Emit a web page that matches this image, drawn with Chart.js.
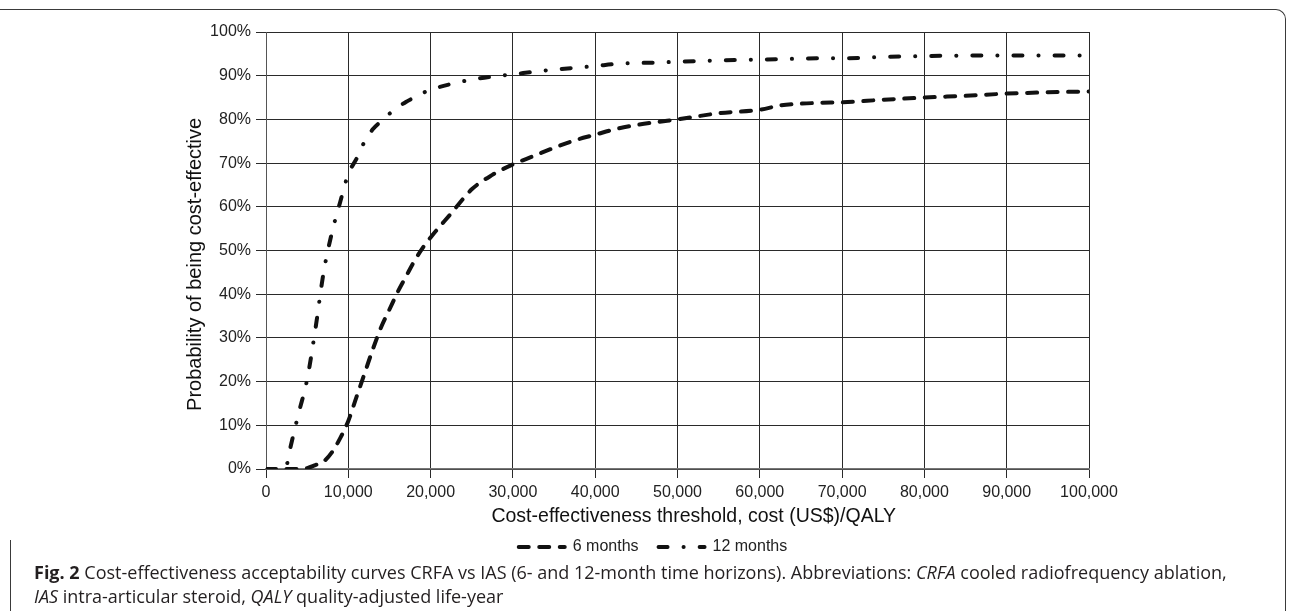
<!DOCTYPE html>
<html>
<head>
<meta charset="utf-8">
<title>CEAC CRFA vs IAS</title>
<script src="https://cdn.jsdelivr.net/npm/chart.js@4"></script>
<style>
	html, body { margin: 0; padding: 0; background: #fff; overflow: hidden; width: 1289px; height: 611px; }
	#frameTop { position: absolute; left: -20px; top: 9px; width: 1305px; height: 640px; border-top: 1.5px solid #3a3a3a; border-right: 1.5px solid #3a3a3a; border-top-right-radius: 10px; }
	#frameLeft { position: absolute; left: 10px; top: 540px; width: 10px; height: 90px; border-left: 1.5px solid #3a3a3a; }
	#wrap { position: absolute; left: 0; top: 0; }
	#caption { position: absolute; left: 34px; top: 560px; font-family: "Open Sans", sans-serif; font-size: 18px; line-height: 24px; color: #231f20; white-space: nowrap; }
	#caption b { font-weight: 700; }
</style>
</head>
<body>
<div id="frameTop"></div>
<div id="frameLeft"></div>
<div id="wrap"><canvas id="mycanvas" width="1306" height="565"></canvas></div>
<div id="caption"><b>Fig. 2</b> Cost-effectiveness acceptability curves CRFA vs IAS (6- and 12-month time horizons). Abbreviations: <i>CRFA</i> cooled radiofrequency ablation,<br><i>IAS</i> intra-articular steroid, <i>QALY</i> quality-adjusted life-year</div>
<script>
// threshold (US$/QALY) and probability of CRFA being cost-effective (%)
var thresholds = [0, 1000, 2000, 2500, 3000, 4000, 5000, 6000, 7000, 8000, 9000, 10000, 11000, 12000, 13000, 14000, 15000, 16000, 17000, 18000, 19000, 20000, 22500, 25000, 27500, 30000, 32500, 35000, 37500, 40000, 42500, 45000, 47500, 50000, 55000, 60000, 62500, 65000, 67500, 70000, 75000, 80000, 85000, 90000, 95000, 100000];
var sixMonths = [0, 0, 0, 0, 0, 0, 0.2, 0.9, 1.7, 3.8, 7, 11, 16.5, 22, 27.5, 32.5, 36.5, 40.5, 44, 47.5, 50.5, 53, 58.5, 64, 67.3, 69.7, 71.6, 73.5, 75.2, 76.5, 77.8, 78.7, 79.4, 80.0, 81.4, 82.2, 83.2, 83.6, 83.8, 83.9, 84.5, 85.0, 85.4, 85.9, 86.2, 86.4];
var twelveMonths = [0, 0, 0, 0.8, 5.2, 13, 20.5, 32, 45, 54, 61, 67.5, 71, 75, 77.8, 79.6, 81.3, 82.7, 84, 85, 86, 86.8, 88.1, 89.1, 89.8, 90.3, 90.9, 91.4, 91.8, 92.2, 92.7, 92.9, 93.0, 93.2, 93.5, 93.7, 93.8, 93.9, 94.0, 94.0, 94.3, 94.5, 94.6, 94.6, 94.6, 94.6];
var seriesLabels = ['6 months', '12 months'];
var xTicks = [0, 10000, 20000, 30000, 40000, 50000, 60000, 70000, 80000, 90000, 100000];
var yTicks = [0, 10, 20, 30, 40, 50, 60, 70, 80, 90, 100];

function toPoints(values) {
	var pts = [];
	for (var i in thresholds) {
		pts.push({x: thresholds[i], y: values[i]});
	}
	return pts;
}

var ink = '#111';
var txt = '#222';

var chartdata = {
	datasets: [
		{
			label: seriesLabels[0],
			data: toPoints(sixMonths),
			borderColor: ink,
			backgroundColor: ink,
			borderWidth: 4,
			borderDash: [10, 10.5],
			borderCapStyle: 'round',
			pointRadius: 0,
			pointStyle: 'line',
			cubicInterpolationMode: 'monotone'
		},
		{
			label: seriesLabels[1],
			data: toPoints(twelveMonths),
			borderColor: ink,
			backgroundColor: ink,
			borderWidth: 4,
			borderDash: [9, 16, 0.1, 16],
			borderCapStyle: 'round',
			pointRadius: 0,
			pointStyle: 'line',
			cubicInterpolationMode: 'monotone'
		}
	]
};

var ctx = document.getElementById('mycanvas');

var lineGraph = new Chart(ctx, {
	type: 'line',
	data: chartdata,
	options: {
		responsive: false,
		animation: false,
		devicePixelRatio: 1,
		layout: { padding: { top: 32, left: 0, right: 0, bottom: 0 } },
		plugins: {
			tooltip: { enabled: false },
			legend: {
				position: 'bottom',
				labels: {
					usePointStyle: true,
					pointStyleWidth: 46,
					padding: 20,
					color: txt,
					font: { family: 'Liberation Sans', size: 16 },
					generateLabels: function(chart) {
						var items = Chart.defaults.plugins.legend.labels.generateLabels(chart);
						items.forEach(function(it) {
							var ds = chart.data.datasets[it.datasetIndex];
							it.lineDash = ds.borderDash;
							it.lineCap = 'round';
							it.lineWidth = 4;
						});
						return items;
					}
				}
			}
		},
		scales: {
			x: {
				type: 'linear',
				min: 0,
				max: 100000,
				afterBuildTicks: function(s) { s.ticks = xTicks.map(function(v) { return {value: v}; }); },
				afterFit: function(s) { s.height = 50; },
				ticks: {
					color: txt,
					padding: 5,
					maxRotation: 0,
					font: { family: 'Liberation Sans', size: 16 },
					callback: function(v) { return v.toLocaleString('en-US'); }
				},
				grid: { color: '#2a2a2a', lineWidth: 1, tickLength: 9 },
				border: { color: '#777', width: 1.5 },
				title: {
					display: true,
					// leading spaces nudge the title right, as in the original
					text: '      Cost-effectiveness threshold, cost (US$)/QALY',
					color: '#111',
					padding: { top: 0, bottom: -9 },
					font: { family: 'Liberation Sans', size: 19.5 }
				}
			},
			y: {
				min: 0,
				max: 100,
				afterBuildTicks: function(s) { s.ticks = yTicks.map(function(v) { return {value: v}; }); },
				afterFit: function(s) { s.width = 266; },
				ticks: {
					color: txt,
					padding: 5,
					font: { family: 'Liberation Sans', size: 16 },
					callback: function(v) { return v + '%'; }
				},
				grid: { color: '#2a2a2a', lineWidth: 1, tickLength: 10 },
				border: { color: '#555' },
				title: {
					display: true,
					text: 'Probability of being cost-effective     ',
					color: '#111',
					padding: { top: 183, bottom: 0 },
					font: { family: 'Liberation Sans', size: 20 }
				}
			},
			spacer: {
				type: 'linear',
				position: 'right',
				display: true,
				afterFit: function(s) { s.width = 217; },
				ticks: { display: false },
				grid: { display: false },
				border: { display: false }
			}
		}
	}
});
</script>
</body>
</html>
